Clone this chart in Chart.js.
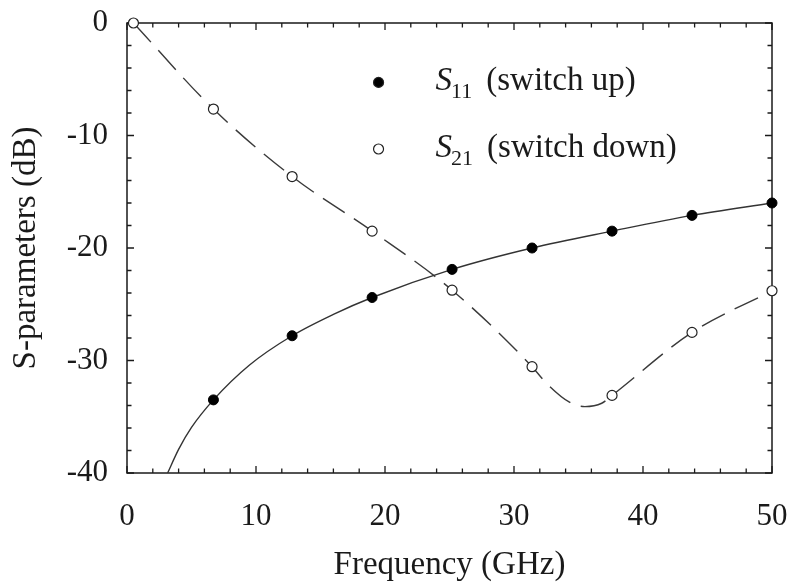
<!DOCTYPE html>
<html>
<head>
<meta charset="utf-8">
<script src="https://cdn.jsdelivr.net/npm/chart.js@4.4.1/dist/chart.umd.min.js"></script>
<style>
    html, body { margin: 0; padding: 0; background: #fff; }
    #wrap { width: 790px; height: 587px; }
</style>
</head>
<body>
<div id="wrap"><canvas id="chart"></canvas></div>
<script>
// measured points (GHz / dB)
const freq = [0.5, 6.7, 12.8, 19.0, 25.2, 31.4, 37.6, 43.8, 50.0]
const s11 = [null, -33.5, -27.8, -24.4, -21.9, -20.0, -18.5, -17.1, -16.0]
const s21 = [0, -7.65, -13.65, -18.5, -23.75, -30.55, -33.1, -27.5, -23.8]

// fitted curves
const s11CurveX = [3.15, 4.0, 5.0, 6.7, 9.5, 12.8, 16.0, 19.0, 25.2, 31.4, 37.6, 43.8, 50.0]
const s11CurveY = [-40, -37.9, -35.95, -33.5, -30.4, -27.8, -25.9, -24.4, -21.9, -20.0, -18.5, -17.1, -16.0]
const s21CurveX = [0.5, 6.7, 12.8, 19.0, 25.2, 31.4, 32.5, 34.3, 35.5, 36.8, 37.6, 43.8, 50.0]
const s21CurveY = [0, -7.65, -13.65, -18.5, -23.75, -30.55, -32.0, -33.7, -34.1, -33.8, -33.1, -27.5, -23.8]

const xTicks = [0, 10, 20, 30, 40, 50]
const yTicks = [0, -10, -20, -30, -40]

const serif = '"Liberation Serif", "Times New Roman", serif'
const ink = '#1a1a1a'

const toPts = (xs, ys) => xs.map((x, i) => ({x: x, y: ys[i]})).filter(p => p.y !== null)

// frame with inward ticks on all four sides
const framePlugin = {
    id: 'frame',
    beforeDatasetsDraw(chart) {
        const {ctx, chartArea: a, scales: {x, y}} = chart
        ctx.save()
        ctx.strokeStyle = ink
        ctx.lineWidth = 1.5
        ctx.strokeRect(a.left, a.top, a.right - a.left, a.bottom - a.top)
        ctx.lineWidth = 1.3
        ctx.beginPath()
        for (let v = 0; v <= 50; v += 2) {
            const px = x.getPixelForValue(v)
            const len = v % 10 === 0 ? 7 : 4.5
            ctx.moveTo(px, a.bottom); ctx.lineTo(px, a.bottom - len)
            ctx.moveTo(px, a.top); ctx.lineTo(px, a.top + len)
        }
        for (let v = -40; v <= 0; v += 2) {
            const py = y.getPixelForValue(v)
            const len = v % 10 === 0 ? 7 : 4.5
            ctx.moveTo(a.left, py); ctx.lineTo(a.left + len, py)
            ctx.moveTo(a.right, py); ctx.lineTo(a.right - len, py)
        }
        ctx.stroke()
        ctx.restore()
    }
}

// legend inside the plot, with subscripts
const legendPlugin = {
    id: 'innerLegend',
    afterDraw(chart) {
        const {ctx, chartArea: a} = chart
        const w = a.right - a.left, h = a.bottom - a.top
        const mx = a.left + w * 0.390
        const rows = [
            {y: a.top + h * 0.132, sub: '11', text: '(switch up)', fill: '#000'},
            {y: a.top + h * 0.280, sub: '21', text: '(switch down)', fill: '#fff'}
        ]
        ctx.save()
        rows.forEach(r => {
            ctx.beginPath()
            ctx.arc(mx, r.y, 5, 0, Math.PI * 2)
            ctx.fillStyle = r.fill
            ctx.fill()
            ctx.lineWidth = 1.2
            ctx.strokeStyle = '#222'
            ctx.stroke()

            const base = r.y + 8
            let tx = mx + 57
            ctx.fillStyle = ink
            ctx.textBaseline = 'alphabetic'
            ctx.font = 'italic 33px ' + serif
            ctx.fillText('S', tx, base)
            tx += ctx.measureText('S').width - 1
            ctx.font = '22px ' + serif
            ctx.fillText(r.sub, tx, base + 8)
            tx += ctx.measureText(r.sub).width + 14
            ctx.font = '33px ' + serif
            ctx.fillText(r.text, tx, base)
        })
        ctx.restore()
    }
}

const ctx = document.getElementById('chart').getContext('2d')
const chart = new Chart(ctx, {
    type: 'scatter',
    data: {
        datasets: [
            {
                label: 'S11 (switch up)',
                data: toPts(freq, s11),
                showLine: false,
                pointRadius: 5,
                pointBackgroundColor: '#000',
                pointBorderColor: '#000',
                pointBorderWidth: 1,
                clip: false
            },
            {
                label: 'S21 (switch down)',
                data: toPts(freq, s21),
                showLine: false,
                pointRadius: 5,
                pointBackgroundColor: '#fff',
                pointBorderColor: '#222',
                pointBorderWidth: 1.2,
                clip: false
            },
            {
                label: 'S11 fit',
                data: toPts(s11CurveX, s11CurveY),
                showLine: true,
                pointRadius: 0,
                borderColor: '#333',
                borderWidth: 1.4,
                cubicInterpolationMode: 'monotone'
            },
            {
                label: 'S21 fit',
                data: toPts(s21CurveX, s21CurveY),
                showLine: true,
                pointRadius: 0,
                borderColor: '#3a3a3a',
                borderWidth: 1.4,
                borderDash: [26, 11],
                cubicInterpolationMode: 'monotone'
            }
        ]
    },
    options: {
        responsive: true,
        maintainAspectRatio: false,
        animation: false,
        layout: {padding: {top: 23, right: 18, left: 0, bottom: 0}},
        plugins: {
            legend: {display: false},
            tooltip: {enabled: false}
        },
        scales: {
            x: {
                type: 'linear',
                min: 0,
                max: 50,
                grid: {display: false, drawTicks: false},
                border: {display: false},
                afterFit: s => {
                    s.height = 114
                    s.paddingLeft = 8
                    s.paddingRight = 15
                },
                afterBuildTicks: s => { s.ticks = xTicks.map(v => ({value: v})) },
                ticks: {
                    font: {family: serif, size: 31},
                    color: ink,
                    padding: 25,
                    maxRotation: 0,
                    callback: v => String(v)
                },
                title: {
                    display: true,
                    text: 'Frequency (GHz)',
                    font: {family: serif, size: 33},
                    color: ink,
                    padding: {top: 0, bottom: 2}
                }
            },
            y: {
                type: 'linear',
                min: -40,
                max: 0,
                grid: {display: false, drawTicks: false},
                border: {display: false},
                afterFit: s => {
                    s.width = 127
                    s.paddingTop = 15
                    s.paddingBottom = 15
                },
                afterBuildTicks: s => { s.ticks = yTicks.map(v => ({value: v})) },
                ticks: {
                    font: {family: serif, size: 31},
                    color: ink,
                    padding: 19,
                    callback: v => String(v)
                },
                title: {
                    display: true,
                    text: 'S-parameters (dB)',
                    font: {family: serif, size: 33},
                    color: ink,
                    padding: {top: 7, bottom: 0}
                }
            }
        }
    },
    plugins: [framePlugin, legendPlugin]
})
</script>
</body>
</html>
